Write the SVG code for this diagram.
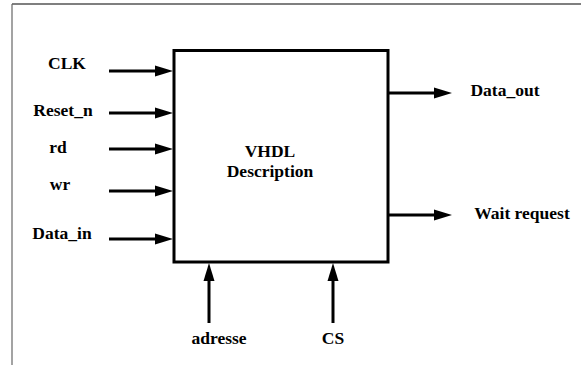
<svg xmlns="http://www.w3.org/2000/svg" width="581" height="365" viewBox="0 0 581 365">
<style>
.w{stroke:#000;stroke-width:3;fill:none}
</style>
<defs>
<marker id="ah" markerUnits="userSpaceOnUse" markerWidth="18" markerHeight="11" refX="0" refY="5.5" orient="auto" overflow="visible">
<path d="M0,0 L18,5.5 L0,11 z" fill="#000"/>
</marker>
</defs>
<rect width="581" height="365" fill="#fff"/>
<g id="frame">
<line x1="12" y1="4" x2="581" y2="4" stroke="#000" stroke-width="1.2"/>
<line x1="12" y1="4" x2="12" y2="365" stroke="#666" stroke-width="1.2"/>
</g>
<g id="connectors">
<line class="w" x1="109" y1="71" x2="155" y2="71" marker-end="url(#ah)"/>
<line class="w" x1="109" y1="113" x2="155" y2="113" marker-end="url(#ah)"/>
<line class="w" x1="109" y1="149" x2="155" y2="149" marker-end="url(#ah)"/>
<line class="w" x1="109" y1="191" x2="155" y2="191" marker-end="url(#ah)"/>
<line class="w" x1="109" y1="239" x2="155" y2="239" marker-end="url(#ah)"/>
<line class="w" x1="388" y1="93" x2="434" y2="93" marker-end="url(#ah)"/>
<line class="w" x1="388" y1="215" x2="434" y2="215" marker-end="url(#ah)"/>
<line class="w" x1="209" y1="323" x2="209" y2="281" marker-end="url(#ah)"/>
<line class="w" x1="333" y1="323" x2="333" y2="281" marker-end="url(#ah)"/>
</g>
<g font-family="Liberation Serif, Times New Roman, serif" font-weight="bold" font-size="17.5" fill="#000" text-anchor="middle">
<g id="vhdl">
<rect x="174" y="50.5" width="214" height="211.5" fill="none" stroke="#000" stroke-width="3"/>
<text x="270" y="157">VHDL</text>
<text x="270" y="177">Description</text>
</g>
<g id="label-clk"><text x="67" y="69">CLK</text></g>
<g id="label-reset"><text x="63" y="116">Reset_n</text></g>
<g id="label-rd"><text x="58" y="153">rd</text></g>
<g id="label-wr"><text x="60" y="190">wr</text></g>
<g id="label-datain"><text x="62" y="239">Data_in</text></g>
<g id="label-dataout"><text x="505" y="95.5">Data_out</text></g>
<g id="label-wait"><text x="522" y="219">Wait request</text></g>
<g id="label-adresse"><text x="219" y="344">adresse</text></g>
<g id="label-cs"><text x="333" y="344">CS</text></g>
</g>
</svg>
